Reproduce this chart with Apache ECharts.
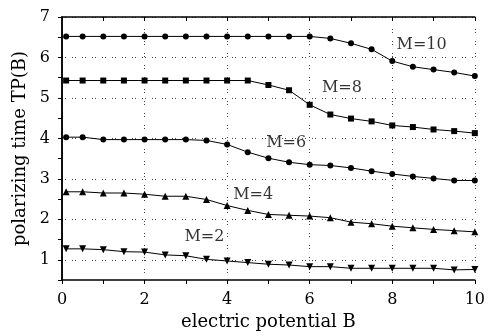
<!DOCTYPE html>
<html><head><meta charset="utf-8">
<script src="https://cdn.jsdelivr.net/npm/echarts@6/dist/echarts.min.js"></script>
<style>html,body{margin:0;padding:0;background:#fff}#c{width:488px;height:336px}</style>
</head><body><div id="c"></div>
<script>
var xValues = [0.1,0.5,1,1.5,2,2.5,3,3.5,4,4.5,5,5.5,6,6.5,7,7.5,8,8.5,9,9.5,10];
var m10 = [6.52,6.52,6.52,6.52,6.52,6.52,6.52,6.52,6.52,6.52,6.52,6.52,6.52,6.47,6.35,6.20,5.91,5.77,5.70,5.63,5.54];
var m8  = [5.43,5.43,5.43,5.43,5.43,5.43,5.43,5.43,5.43,5.43,5.32,5.19,4.83,4.59,4.49,4.42,4.32,4.28,4.22,4.18,4.13];
var m6  = [4.03,4.03,3.97,3.97,3.97,3.97,3.97,3.95,3.85,3.66,3.51,3.41,3.35,3.33,3.27,3.19,3.12,3.06,3.01,2.96,2.96];
var m4  = [2.68,2.68,2.65,2.65,2.62,2.57,2.57,2.49,2.34,2.22,2.12,2.10,2.08,2.04,1.93,1.89,1.83,1.79,1.75,1.72,1.69];
var m2  = [1.27,1.27,1.25,1.20,1.19,1.12,1.10,1.01,0.97,0.93,0.89,0.87,0.83,0.83,0.79,0.79,0.79,0.79,0.79,0.75,0.76];
var seriesNames = ['M=10','M=8','M=6','M=4','M=2'];
var labelX = [8.71,6.78,5.43,4.63,3.45];
var labelY = [6.30,5.25,3.89,2.61,1.57];
var xTickLabels = ['0','2','4','6','8','10'];
var yTickLabels = ['1','2','3','4','5','6','7'];

var FONT = 'DejaVu Serif';
function pairs(ys){ return xValues.map(function(x,i){ return [x, ys[i]]; }); }
var chart = echarts.init(document.getElementById('c'), null, {renderer:'canvas'});
var symbols = [['circle',6,0],['rect',6,0],['circle',6,0],['triangle',7,0],['triangle',7,180]];
var data = [m10,m8,m6,m4,m2];
var series = data.map(function(d,i){
  return {
    type:'line', name: seriesNames[i], data: pairs(d),
    symbol: symbols[i][0], symbolSize: symbols[i][1], symbolRotate: symbols[i][2],
    showAllSymbol: true, animation:false,
    lineStyle:{color:'#000', width:1}, itemStyle:{color:'#000'}
  };
});
series.push({
  type:'scatter', symbolSize:0, animation:false,
  data: seriesNames.map(function(n,i){ return {value:[labelX[i],labelY[i]], name:n}; }),
  label:{show:true, position:'inside', formatter:function(p){return p.name;}, color:'#000', fontFamily:FONT, fontSize:16}
});
var option = {
  backgroundColor:'#fff',
  animation:false,
  grid:{left:62, right:11, top:17, bottom:56},
  xAxis:[{
    type:'value', min:0, max:10, interval:1,
    name:'electric potential B', nameLocation:'middle', nameGap:30,
    nameTextStyle:{color:'#000', fontFamily:FONT, fontSize:18},
    axisLine:{show:true, lineStyle:{color:'#000', width:1.5}},
    axisTick:{show:true, length:4, inside:false, lineStyle:{color:'#000', width:1}},
    axisLabel:{color:'#000', fontFamily:FONT, fontSize:16, margin:12,
      formatter:function(v){ var s=String(Math.round(v)); return xTickLabels.indexOf(s)>=0 && Math.abs(v-Math.round(v))<1e-6 ? s : ''; }},
    splitLine:{show:true, lineStyle:{color:['#444','rgba(0,0,0,0)'], width:1, type:[1,2,1,8]}}
  },{
    type:'value', min:0, max:10, interval:1, position:'top',
    axisLine:{show:true, lineStyle:{color:'#000', width:1.5}},
    axisTick:{show:true, inside:true, length:4, lineStyle:{color:'#000'}},
    axisLabel:{show:false}, splitLine:{show:false}
  }],
  yAxis:[{
    type:'value', min:0.5, max:7, interval:0.5,
    name:'polarizing time TP(B)', nameLocation:'middle', nameGap:30, nameRotate:90,
    nameTextStyle:{color:'#000', fontFamily:FONT, fontSize:18},
    axisLine:{show:true, lineStyle:{color:'#000', width:1.5}},
    axisTick:{show:true, length:4, inside:false, lineStyle:{color:'#000'}},
    axisLabel:{color:'#000', fontFamily:FONT, fontSize:16, margin:12,
      formatter:function(v){ var s=String(Math.round(v)); return Math.abs(v-Math.round(v))<1e-6 && yTickLabels.indexOf(s)>=0 ? s : ''; }},
    splitLine:{show:true, lineStyle:{color:['rgba(0,0,0,0)','#444'], width:1, type:[1,2,1,6]}}
  },{
    type:'value', min:0.5, max:7, interval:0.5, position:'right',
    axisLine:{show:true, lineStyle:{color:'#000', width:1.5}},
    axisTick:{show:true, inside:true, length:4, lineStyle:{color:'#000'}},
    axisLabel:{show:false}, splitLine:{show:false}
  }],
  series: series
};
chart.setOption(option);
</script></body></html>
